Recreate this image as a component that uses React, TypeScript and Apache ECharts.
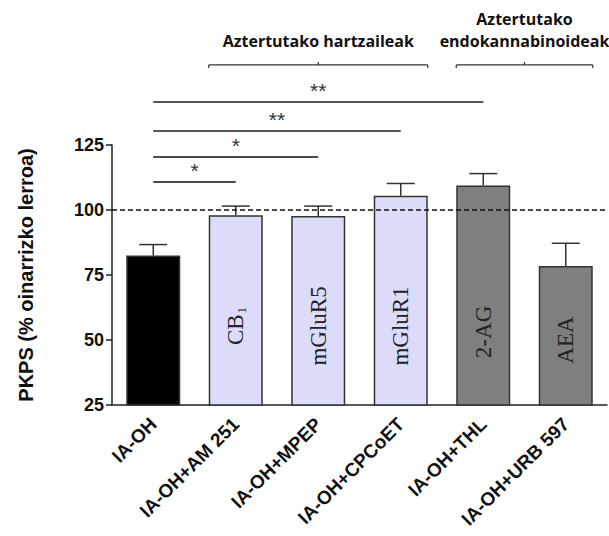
import React, { useEffect, useRef } from "react";
import * as echarts from "echarts";

const categories = ["IA-OH", "IA-OH+AM 251", "IA-OH+MPEP", "IA-OH+CPCoET", "IA-OH+THL", "IA-OH+URB 597"];
const means = [82.5, 98, 97.7, 105.5, 109.4, 78.5];
const sems = [4.2, 3.5, 3.8, 4.7, 4.6, 8.7];
const barColors = ["#000000", "#dcdcfa", "#dcdcfa", "#dcdcfa", "#7f7f7f", "#7f7f7f"];
const innerLabels = ["", "{a|CB}{s|1}", "{a|mGluR5}", "{a|mGluR1}", "{a|2-AG}", "{a|AEA}"];
const innerLabelY = [0, 55.4, 55.4, 55.4, 53.1, 50.0];
const yTicks = [25, 50, 75, 100, 125];
const baseline = 100;

const sigFrom = [0, 0, 0, 0];
const sigTo = [1, 2, 3, 4];
const sigLevel = [110.8, 120.4, 130.4, 141.5];
const sigText = ["*", "*", "**", "**"];
const sigColor = ["#111111", "#111111", "#555555", "#555555"];

const groupFrom = [1, 4];
const groupTo = [3, 5];
const groupLevel = [155.8, 155.8];
const groupText = ["Aztertutako hartzaileak", "Aztertutako\nendokannabinoideak"];

export default function App() {
  const ref = useRef<HTMLDivElement>(null);
  useEffect(() => {
    const chart = echarts.init(ref.current!, null, { renderer: "svg" });
    const barHalf = 27;
    const option: any = {
      animation: false,
      backgroundColor: "#ffffff",
      grid: { left: 112, right: 2, top: 145, bottom: 131 },
      xAxis: {
        type: "category",
        data: categories,
        axisLine: { lineStyle: { color: "#222", width: 1.5 } },
        axisTick: { alignWithLabel: true, length: 7, lineStyle: { color: "#222", width: 1.5 } },
        axisLabel: {
          rotate: 45,
          interval: 0,
          margin: 16,
          fontFamily: "Liberation Sans, Arial",
          fontWeight: "bold",
          fontSize: 19,
          color: "#111",
        },
      },
      yAxis: {
        type: "value",
        min: 25,
        max: 125,
        interval: 25,
        name: "PKPS (% oinarrizko lerroa)",
        nameLocation: "middle",
        nameGap: 76,
        nameTextStyle: { fontFamily: "Liberation Sans, Arial", fontWeight: "bold", fontSize: 20, color: "#111" },
        axisLine: { show: true, lineStyle: { color: "#222", width: 1.5 } },
        axisTick: { show: true, length: 6, lineStyle: { color: "#222", width: 1.5 } },
        splitLine: { show: false },
        axisLabel: {
          margin: 8,
          fontFamily: "Liberation Sans, Arial",
          fontWeight: "bold",
          fontSize: 18,
          color: "#111",
          formatter: (v: number) => (yTicks.includes(v) ? String(v) : ""),
        },
      },
      series: [
        {
          type: "bar",
          barWidth: 54,
          data: means.map((v, i) => ({
            value: v,
            itemStyle: { color: barColors[i], borderColor: "#333", borderWidth: 1.5 },
          })),
          markLine: {
            silent: true,
            symbol: "none",
            label: { show: false },
            lineStyle: { color: "#111", type: [5, 3], width: 1.5 },
            data: [{ yAxis: baseline }],
          },
          z: 2,
        },
        {
          type: "custom",
          clip: false,
          z: 3,
          itemStyle: { color: "#333" },
          data: means.map((v, i) => [i, v, v + sems[i]]),
          renderItem: (params: any, api: any) => {
            const base = api.coord([api.value(0), api.value(1)]);
            const top = api.coord([api.value(0), api.value(2)]);
            const style = { stroke: "#333", lineWidth: 1.5 };
            return {
              type: "group",
              children: [
                { type: "line", shape: { x1: base[0], y1: base[1], x2: top[0], y2: top[1] }, style },
                { type: "line", shape: { x1: top[0] - 14, y1: top[1], x2: top[0] + 14, y2: top[1] }, style },
              ],
            };
          },
        },
        {
          type: "custom",
          clip: false,
          z: 4,
          itemStyle: { color: "#222" },
          data: innerLabels.map((t, i) => [i, innerLabelY[i]]),
          renderItem: (params: any, api: any) => {
            const i = params.dataIndex;
            if (!innerLabels[i]) return { type: "group", children: [] };
            const p = api.coord([api.value(0), api.value(1)]);
            return {
              type: "text",
              x: p[0],
              y: p[1],
              rotation: Math.PI / 2,
              style: {
                text: innerLabels[i],
                align: "center",
                verticalAlign: "middle",
                fill: "#222",
                rich: {
                  a: { fontFamily: "Liberation Serif, Times New Roman", fontSize: 23, fill: "#222", color: "#222" },
                  s: { fontFamily: "Liberation Serif, Times New Roman", fontSize: 13, fill: "#222", color: "#222", padding: [12, 0, 0, 1] },
                },
              },
            };
          },
        },
        {
          type: "custom",
          clip: false,
          z: 5,
          itemStyle: { color: "#333" },
          data: sigFrom.map((f, i) => [f, sigTo[i], sigLevel[i]]),
          renderItem: (params: any, api: any) => {
            const i = params.dataIndex;
            const a = api.coord([api.value(0), api.value(2)]);
            const b = api.coord([api.value(1), api.value(2)]);
            return {
              type: "group",
              children: [
                {
                  type: "line",
                  shape: { x1: a[0], y1: a[1], x2: b[0], y2: b[1] },
                  style: { stroke: sigColor[i], lineWidth: i >= 2 ? 2 : 1.5 },
                },
                {
                  type: "text",
                  x: (a[0] + b[0]) / 2,
                  y: a[1] - 1,
                  style: {
                    text: sigText[i],
                    align: "center",
                    verticalAlign: "bottom",
                    fontFamily: "Liberation Sans, Arial",
                    fontSize: 21,
                    fill: "#333333",
                  },
                },
              ],
            };
          },
        },
        {
          type: "custom",
          clip: false,
          z: 5,
          itemStyle: { color: "#111" },
          data: groupFrom.map((f, i) => [f, groupTo[i], groupLevel[i]]),
          renderItem: (params: any, api: any) => {
            const i = params.dataIndex;
            const a = api.coord([api.value(0), api.value(2)]);
            const b = api.coord([api.value(1), api.value(2)]);
            const x1 = a[0] - barHalf;
            const x2 = b[0] + barHalf;
            const y = a[1];
            const mid = (a[0] + b[0]) / 2;
            const st = { stroke: "#333", lineWidth: 1.2 };
            return {
              type: "group",
              children: [
                { type: "line", shape: { x1, y1: y, x2, y2: y }, style: st },
                { type: "line", shape: { x1, y1: y, x2: x1, y2: y + 3 }, style: st },
                { type: "line", shape: { x1: x2, y1: y, x2, y2: y + 3 }, style: st },
                { type: "line", shape: { x1: mid, y1: y, x2: mid, y2: y - 3 }, style: st },
                {
                  type: "text",
                  x: mid,
                  y: y - 13,
                  style: {
                    text: groupText[i],
                    align: "center",
                    verticalAlign: "bottom",
                    fontFamily: "Open Sans, sans-serif",
                    fontWeight: "bold",
                    fontSize: 16,
                    lineHeight: 22,
                    fill: "#111111",
                  },
                },
              ],
            };
          },
        },
      ],
    };
    chart.setOption(option);
    return () => chart.dispose();
  }, []);
  return (
    <div
      ref={ref}
      style={{ position: "fixed", left: 0, top: 0, width: 609, height: 536, background: "#fff" }}
    />
  );
}
